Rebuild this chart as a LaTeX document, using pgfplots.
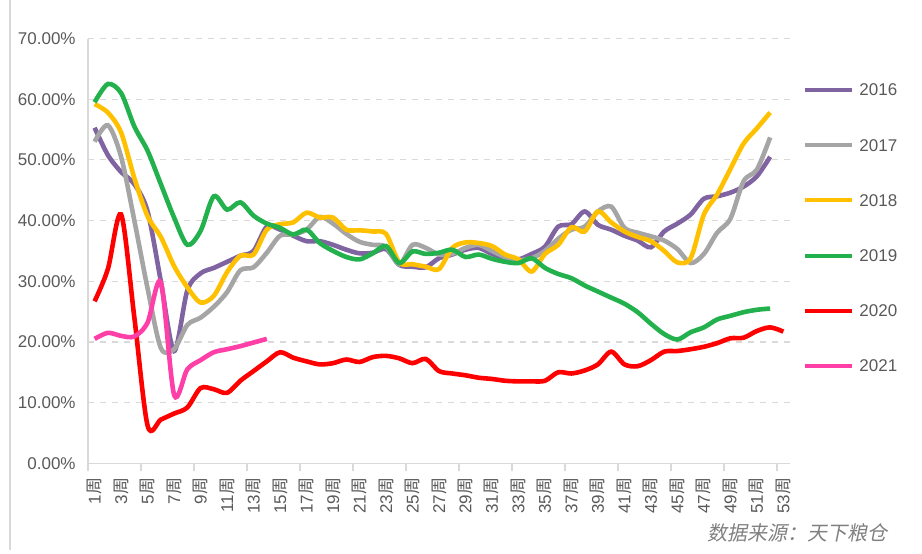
\documentclass[border=0pt]{standalone}
\usepackage{fontspec}
\setmainfont{Liberation Sans}
\newfontfamily\cjk{Noto Sans CJK SC}
\newfontfamily\cjkit[FakeSlant=0.2]{Noto Sans CJK SC}
\usepackage{pgfplots}
\usepackage{pgfplotstable}
\pgfplotsset{compat=1.18}
\definecolor{c16}{HTML}{8064A2}
\definecolor{c17}{HTML}{A5A5A5}
\definecolor{c18}{HTML}{FFC000}
\definecolor{c19}{HTML}{22B14C}
\definecolor{c20}{HTML}{FF0000}
\definecolor{c21}{HTML}{FF3FA8}
\definecolor{txt}{HTML}{595959}
\definecolor{gridc}{HTML}{D9D9D9}

% weekly values in percent, nan where a year has no data
\pgfplotstableread{
w  a16  a17  a18  a19  a20  a21
1  55.3 53.0 59.2 59.5 26.7 20.5
2  50.8 55.7 57.8 62.5 32.0 21.5
3  48.0 50.5 54.5 61.0 41.0 21.0
4  46.0 40.0 47.0 55.5 24.0 20.9
5  41.5 28.8 40.7 51.5 6.2  23.2
6  30.0 19.0 37.3 46.0 7.2  29.8
7  18.5 18.8 32.5 40.5 8.2  11.3
8  28.5 22.8 29.0 36.0 9.2  15.5
9  31.3 24.0 26.5 38.3 12.4 17.0
10 32.2 25.8 27.6 44.0 12.2 18.3
11 33.2 28.2 31.5 41.8 11.6 18.8
12 34.2 31.8 34.2 43.0 13.6 19.3
13 35.0 32.3 34.4 40.8 15.2 19.9
14 39.0 34.7 38.5 39.5 16.8 20.5
15 38.5 37.5 39.4 38.8 18.3 nan
16 37.5 37.7 39.7 37.7 17.4 nan
17 36.6 38.5 41.3 38.5 16.8 nan
18 36.6 40.6 40.5 36.3 16.3 nan
19 36.0 39.5 40.5 35.0 16.5 nan
20 35.2 37.8 38.5 34.0 17.1 nan
21 34.6 36.5 38.4 33.6 16.7 nan
22 34.7 36.0 38.2 34.6 17.5 nan
23 35.3 35.7 37.8 35.8 17.7 nan
24 32.7 32.8 33.1 33.0 17.3 nan
25 32.4 36.0 32.8 34.9 16.5 nan
26 32.3 35.5 32.4 34.5 17.2 nan
27 33.8 34.4 32.0 34.7 15.2 nan
28 34.4 34.5 35.5 35.2 14.8 nan
29 35.2 35.5 36.4 34.0 14.5 nan
30 35.5 36.0 36.3 34.4 14.1 nan
31 34.5 35.0 35.8 33.7 13.9 nan
32 33.8 34.0 34.4 33.2 13.6 nan
33 33.6 33.5 33.6 33.0 13.5 nan
34 34.5 33.8 31.6 33.8 13.5 nan
35 35.7 35.0 34.5 32.2 13.6 nan
36 39.0 37.0 36.0 31.2 15.0 nan
37 39.4 38.5 38.9 30.5 14.8 nan
38 41.5 39.0 38.2 29.3 15.3 nan
39 39.3 41.5 41.5 28.3 16.3 nan
40 38.5 42.3 39.7 27.3 18.4 nan
41 37.5 38.8 38.2 26.3 16.3 nan
42 36.7 38.0 37.3 24.9 16.0 nan
43 35.6 37.4 36.6 23.0 17.0 nan
44 38.2 36.7 35.0 21.3 18.4 nan
45 39.5 35.3 33.1 20.4 18.5 nan
46 41.0 33.0 33.8 21.6 18.8 nan
47 43.6 34.5 41.0 22.4 19.2 nan
48 44.0 38.0 44.3 23.7 19.8 nan
49 44.6 40.3 48.5 24.3 20.6 nan
50 45.6 46.5 52.7 24.9 20.7 nan
51 47.3 48.4 55.2 25.3 21.8 nan
52 50.5 53.7 57.8 25.5 22.4 nan
53 nan  nan  nan  nan  21.7 nan
}\data

\begin{document}
\begin{tikzpicture}
\useasboundingbox (0,0) rectangle (461pt,276.5pt);
\draw[gridc, line width=0.8pt] (5pt,1.5pt) -- (5pt,276.5pt);
\begin{axis}[
  at={(44pt,44.85pt)}, anchor=south west,
  scale only axis, width=351pt, height=212.4pt,
  xmin=0.5, xmax=53.5, ymin=0, ymax=70,
  axis x line=bottom, axis y line=left,
  axis line style={gridc, line width=0.8pt, -},
  font=\fontsize{8.5}{10}\selectfont,
  /pgf/number format/assume math mode=true,
  ytick={0,10,...,70},
  yticklabels={0.00\%,10.00\%,20.00\%,30.00\%,40.00\%,50.00\%,60.00\%,70.00\%},
  ymajorgrids, grid style={gridc, dashed, line width=0.6pt},
  tick style={gridc, line width=0.8pt},
  major tick length=0pt, tick align=outside,
  xtick={1,3,...,53},
  xticklabel={\pgfmathprintnumber{\tick}{\cjk 周}},
  xticklabel style={rotate=90, anchor=east, inner sep=0pt, text=txt},
  xticklabel shift=7pt,
  yticklabel style={anchor=east, inner sep=0pt, text=txt},
  yticklabel shift=6pt,
  extra x ticks={0.5,4.5,...,52.5}, extra x tick labels={},
  extra x tick style={major tick length=4pt, grid=none},
  unbounded coords=jump,
  every axis plot/.append style={smooth, line width=2.3pt, no markers},
  legend image code/.code={\draw[#1, line width=2pt] (0pt,0pt) -- (23.5pt,0pt);},
  legend style={draw=none, fill=none, at={(1,1)}, anchor=north west,
    xshift=6.5pt, yshift=-22.5pt, inner sep=0pt, row sep=21.6pt, column sep=2.5pt,
    font=\fontsize{8.5}{10}\selectfont, text=txt,
    nodes={inner sep=0pt, text height=6pt, text depth=0pt}},
  legend cell align=left,
]
\addplot[c16] table[x=w, y=a16] {\data};
\addlegendentry{2016}
\addplot[c17] table[x=w, y=a17] {\data};
\addlegendentry{2017}
\addplot[c18] table[x=w, y=a18] {\data};
\addlegendentry{2018}
\addplot[c19] table[x=w, y=a19] {\data};
\addlegendentry{2019}
\addplot[c20] table[x=w, y=a20] {\data};
\addlegendentry{2020}
\addplot[c21] table[x=w, y=a21] {\data};
\addlegendentry{2021}
\end{axis}
\node[anchor=east, text=gray, inner sep=0pt, font=\cjkit\fontsize{10}{12}\selectfont] at (444pt,10pt) {数据来源：天下粮仓};
\end{tikzpicture}
\end{document}
